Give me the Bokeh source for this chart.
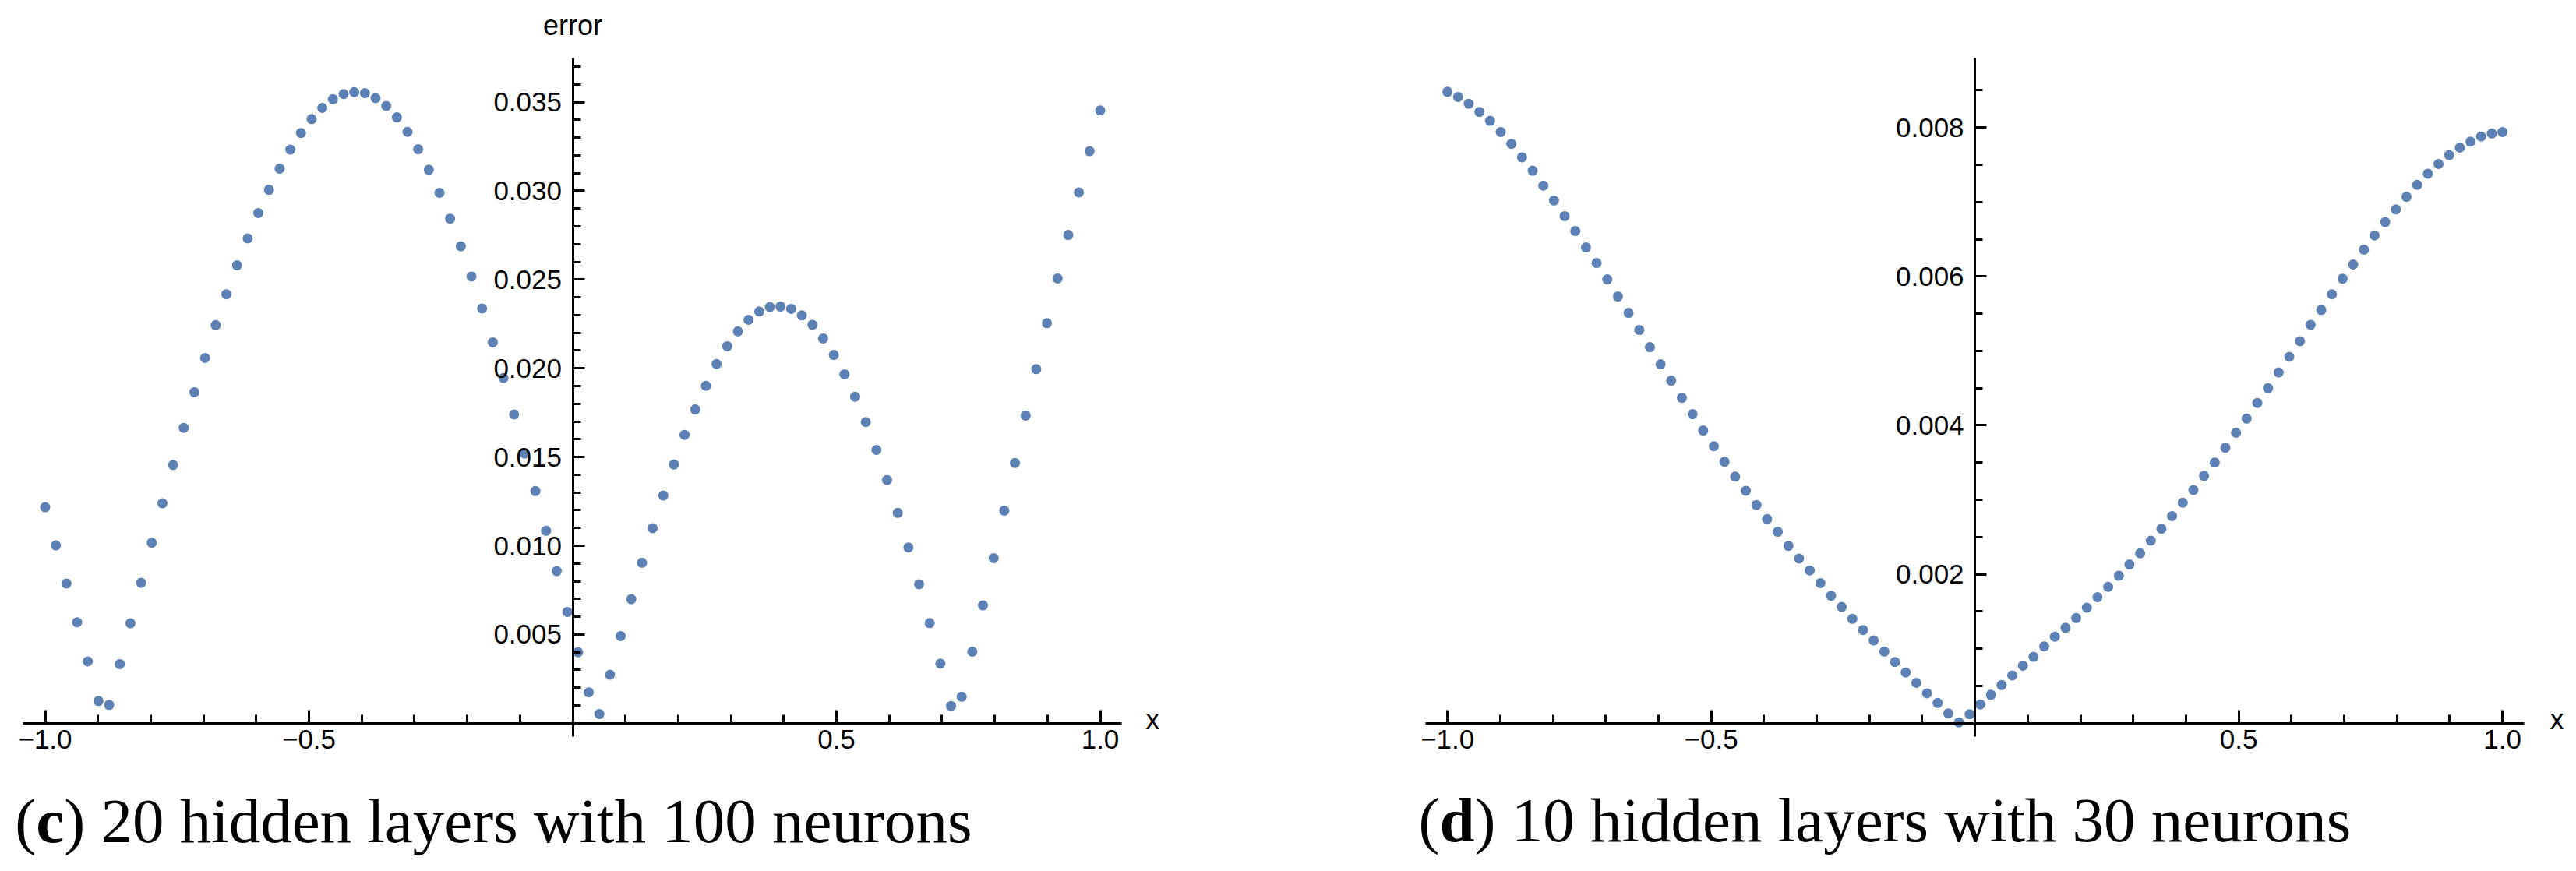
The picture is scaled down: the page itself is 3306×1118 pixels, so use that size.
import numpy as np
from bokeh.plotting import figure
from bokeh.models import LinearAxis, FixedTicker, Label, Range1d
from bokeh.layouts import row
from bokeh.embed import file_html
from bokeh.resources import INLINE

# ---------------- data ----------------
x_first, x_last, n_points = -1.0, 1.0, 100
x_values = np.linspace(x_first, x_last, n_points)

error_c = [
    0.01217, 0.01002, 0.00787, 0.00569, 0.00348, 0.00125, 0.00103, 0.00333, 0.00563, 0.00791,
    0.01017, 0.01239, 0.01455, 0.01664, 0.01865, 0.02058, 0.02243, 0.02417, 0.02580, 0.02732,
    0.02875, 0.03006, 0.03125, 0.03232, 0.03326, 0.03404, 0.03467, 0.03516, 0.03545, 0.03556,
    0.03550, 0.03522, 0.03478, 0.03414, 0.03332, 0.03234, 0.03119, 0.02989, 0.02843, 0.02687,
    0.02517, 0.02337, 0.02146, 0.01945, 0.01740, 0.01520, 0.01308, 0.01084, 0.00857, 0.00627,
    0.00400, 0.00174, 0.00052, 0.00273, 0.00491, 0.00699, 0.00904, 0.01099, 0.01283, 0.01458,
    0.01625, 0.01768, 0.01901, 0.02024, 0.02124, 0.02208, 0.02273, 0.02320, 0.02345, 0.02348,
    0.02335, 0.02298, 0.02245, 0.02168, 0.02075, 0.01966, 0.01840, 0.01697, 0.01540, 0.01370,
    0.01185, 0.00990, 0.00783, 0.00564, 0.00336, 0.00097, 0.00149, 0.00403, 0.00664, 0.00930,
    0.01198, 0.01466, 0.01733, 0.01995, 0.02254, 0.02506, 0.02751, 0.02991, 0.03223, 0.03453,
]

error_d = [
    0.00848, 0.00841, 0.00832, 0.00821, 0.00809, 0.00794, 0.00778, 0.00760, 0.00742, 0.00722,
    0.00702, 0.00681, 0.00661, 0.00639, 0.00618, 0.00596, 0.00573, 0.00551, 0.00528, 0.00505,
    0.00482, 0.00460, 0.00437, 0.00415, 0.00393, 0.00372, 0.00351, 0.00331, 0.00312, 0.00293,
    0.00274, 0.00257, 0.00238, 0.00221, 0.00205, 0.00188, 0.00171, 0.00156, 0.00140, 0.00125,
    0.00111, 0.00096, 0.00082, 0.00068, 0.00054, 0.00040, 0.00027, 0.00013, 0.00001, 0.00012,
    0.00025, 0.00038, 0.00051, 0.00064, 0.00077, 0.00089, 0.00103, 0.00116, 0.00128, 0.00141,
    0.00155, 0.00169, 0.00183, 0.00198, 0.00213, 0.00228, 0.00245, 0.00261, 0.00278, 0.00296,
    0.00313, 0.00332, 0.00350, 0.00370, 0.00390, 0.00409, 0.00430, 0.00450, 0.00471, 0.00492,
    0.00513, 0.00535, 0.00555, 0.00576, 0.00597, 0.00616, 0.00636, 0.00655, 0.00673, 0.00690,
    0.00707, 0.00723, 0.00738, 0.00751, 0.00763, 0.00773, 0.00781, 0.00788, 0.00792, 0.00794,
]

x_major_ticks = [-1.0, -0.5, 0.5, 1.0]
x_major_labels = ["\u22121.0", "\u22120.5", "0.5", "1.0"]
x_minor_ticks = [-0.9, -0.8, -0.7, -0.6, -0.4, -0.3, -0.2, -0.1, 0.0,
                 0.1, 0.2, 0.3, 0.4, 0.6, 0.7, 0.8, 0.9]

yc_major_ticks = [0.005, 0.010, 0.015, 0.020, 0.025, 0.030, 0.035]
yc_major_labels = ["0.005", "0.010", "0.015", "0.020", "0.025", "0.030", "0.035"]
yc_minor_ticks = [round(0.001 * i, 4) for i in range(1, 38)]

yd_major_ticks = [0.002, 0.004, 0.006, 0.008]
yd_major_labels = ["0.002", "0.004", "0.006", "0.008"]
yd_minor_ticks = [round(0.0005 * i, 5) for i in range(1, 18)]

caption_c = ("(", "c", ") 20 hidden layers with 100 neurons")
caption_d = ("(", "d", ") 10 hidden layers with 30 neurons")

# plot ranges (where the axes are drawn)
xbounds_c = (-1.0425, 1.0402)
ybounds_c = (-0.00076, 0.03748)
xbounds_d = (-1.0415, 1.0412)
ybounds_d = (-0.000182, 0.008934)

# ---------------- style / layout ----------------
DOT = "#5E81B5"
TICK_FONT = "Liberation Sans"
CAP_FONT = "Liberation Serif"
CAP_SIZE = 81
FIG_H = 1118
X_PX = 677.0  # pixels per x unit


def make_panel(left_px, width, zero_x_px, zero_y_px, y_px_per_unit,
               xb, yb, yvals, yticks, ylabels, yminor,
               caption, bold_w, show_error_label, x_label_off, cap_x_off):
    # frame covers the whole figure; ranges chosen so the axes land in place
    xr = ((0 - (zero_x_px - left_px)) / X_PX, (width - (zero_x_px - left_px)) / X_PX)
    yr = ((zero_y_px - FIG_H) / y_px_per_unit, zero_y_px / y_px_per_unit)
    p = figure(width=width, height=FIG_H,
               x_range=Range1d(*xr), y_range=Range1d(*yr),
               x_axis_location=None, y_axis_location=None,
               toolbar_location=None, output_backend="svg",
               min_border=0, min_border_left=0, min_border_right=0,
               min_border_top=0, min_border_bottom=0,
               outline_line_color=None, background_fill_color="white",
               border_fill_color="white")
    p.grid.visible = False

    p.scatter(x_values, yvals, size=13, fill_color=DOT, line_color=None)

    xaxis = LinearAxis(fixed_location=0, bounds=xb,
                       ticker=FixedTicker(ticks=x_major_ticks, minor_ticks=x_minor_ticks),
                       major_label_overrides=dict(zip(x_major_ticks, x_major_labels)))
    xaxis.major_tick_in = 17
    xaxis.major_tick_out = 0
    xaxis.minor_tick_in = 11
    xaxis.minor_tick_out = 0
    xaxis.major_label_standoff = 9
    p.add_layout(xaxis, "below")

    yaxis = LinearAxis(fixed_location=0, bounds=yb,
                       ticker=FixedTicker(ticks=yticks, minor_ticks=yminor),
                       major_label_overrides=dict(zip(yticks, ylabels)))
    yaxis.major_tick_in = 15
    yaxis.major_tick_out = 0
    yaxis.minor_tick_in = 10
    yaxis.minor_tick_out = 0
    yaxis.major_label_standoff = 14
    p.add_layout(yaxis, "left")

    for ax in (xaxis, yaxis):
        ax.axis_line_width = 3
        ax.axis_line_color = "black"
        ax.major_tick_line_width = 3
        ax.minor_tick_line_width = 3
        ax.major_tick_line_color = "black"
        ax.minor_tick_line_color = "black"
        ax.major_label_text_font = TICK_FONT
        ax.major_label_text_font_size = "35px"
        ax.major_label_text_color = "black"

    # axis names
    p.add_layout(Label(x=xb[1], y=0, text="x", x_offset=x_label_off, y_offset=5,
                       text_align="left", text_baseline="middle",
                       text_font=TICK_FONT, text_font_size="36px", text_color="black"))
    if show_error_label:
        p.add_layout(Label(x=0, y=yb[1], text="error", y_offset=42,
                           text_align="center", text_baseline="middle",
                           text_font=TICK_FONT, text_font_size="36px", text_color="black"))

    # caption: "(" + bold letter + rest
    paren_w = 0.333 * CAP_SIZE
    offs = [cap_x_off, cap_x_off + paren_w, cap_x_off + paren_w + bold_w * CAP_SIZE]
    styles = ["normal", "bold", "normal"]
    for txt, off, st in zip(caption, offs, styles):
        p.add_layout(Label(x=xb[0], y=yb[0], text=txt, x_offset=off, y_offset=-108,
                           text_align="left", text_baseline="alphabetic",
                           text_font=CAP_FONT, text_font_size=f"{CAP_SIZE}px",
                           text_font_style=st, text_color="black"))
    return p


W1 = 1780
W2 = 3306 - W1
p1 = make_panel(0, W1, 734.5, 927.8, 22780.0, xbounds_c, ybounds_c,
                error_c, yc_major_ticks, yc_major_labels, yc_minor_ticks,
                caption_c, 0.444, True, 31, -10)
p2 = make_panel(W1, W2, 2534.1, 927.6, 95550.0, xbounds_d, ybounds_d,
                error_d, yd_major_ticks, yd_major_labels, yd_minor_ticks,
                caption_d, 0.556, False, 33, -9)

layout = row(p1, p2)
open("out.html", "w").write(file_html(layout, INLINE))
